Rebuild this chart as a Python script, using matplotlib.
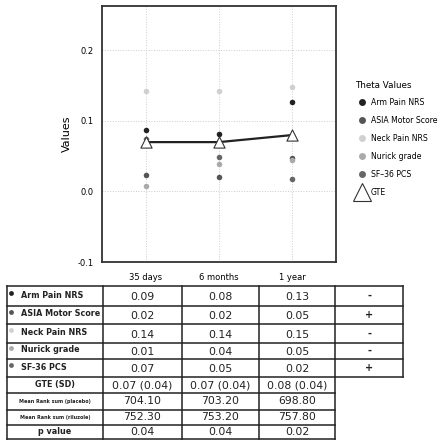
import numpy as np
import matplotlib
matplotlib.use("Agg")
import matplotlib.pyplot as plt
from matplotlib.lines import Line2D

# --- data ---
timepoints = ["35 days", "6 months", "1 year"]
measures = ["Arm Pain NRS", "ASIA Motor Score", "Neck Pain NRS", "Nurick grade", "SF\u201336 PCS"]
measure_colors = ["#222222", "#555555", "#d0d0d0", "#aaaaaa", "#666666"]
# theta values as plotted
theta = {
    "Arm Pain NRS":     [0.087, 0.082, 0.127],
    "ASIA Motor Score": [0.023, 0.021, 0.047],
    "Neck Pain NRS":    [0.143, 0.142, 0.148],
    "Nurick grade":     [0.008, 0.039, 0.045],
    "SF\u201336 PCS":   [0.075, 0.049, 0.018],
}
gte = [0.07, 0.07, 0.08]

# table contents
table_labels = ["Arm Pain NRS", "ASIA Motor Score", "Neck Pain NRS", "Nurick grade", "SF-36 PCS"]
table_theta = [["0.09", "0.08", "0.13"],
               ["0.02", "0.02", "0.05"],
               ["0.14", "0.14", "0.15"],
               ["0.01", "0.04", "0.05"],
               ["0.07", "0.05", "0.02"]]
direction = ["-", "+", "-", "-", "+"]
gte_sd = ["0.07 (0.04)", "0.07 (0.04)", "0.08 (0.04)"]
rank_placebo = ["704.10", "703.20", "698.80"]
rank_riluzole = ["752.30", "753.20", "757.80"]
p_values = ["0.04", "0.04", "0.02"]

W, H = 441, 440
fig = plt.figure(figsize=(W / 100, H / 100), dpi=100)

# --- chart ---
ax = fig.add_axes([102 / W, (H - 262) / H, 234 / W, 256 / H])
x = np.arange(1, len(timepoints) + 1)
for m, c in zip(measures, measure_colors):
    ax.scatter(x, theta[m], s=16, color=c, zorder=3, linewidths=0)
ax.plot(x, gte, color="#222222", lw=1.6, zorder=4)
ax.scatter(x, gte, marker="^", s=65, facecolor="white", edgecolor="#333333",
           linewidths=0.8, zorder=5)
ax.set_xlim(0.4, 3.6)
ax.set_ylim(-0.1, 0.263)
ax.set_yticks([-0.1, 0.0, 0.1, 0.2])
ax.set_yticklabels(["-0.1", "0.0", "0.1", "0.2"])
ax.set_xticks(x)
ax.set_xticklabels(timepoints)
ax.tick_params(axis="both", length=0, labelsize=6, pad=6)
ax.tick_params(axis="x", pad=8)
ax.grid(True, color="#cccccc", linestyle=":", lw=0.7)
for s in ax.spines.values():
    s.set_linewidth(1.3)
    s.set_color("#333333")
ax.set_ylabel("Values", fontsize=8, labelpad=4)

handles = [Line2D([], [], ls="none", marker="o", ms=5, mec="none", color=c)
           for c in measure_colors]
handles.append(Line2D([], [], ls="none", marker="^", ms=13, mfc="white",
                      mec="#333333", mew=0.8))
leg = ax.legend(handles, measures + ["GTE"], loc="upper left",
                bbox_to_anchor=(1.07, 0.72), frameon=False,
                title="Theta Values", fontsize=5.6, title_fontsize=6.3,
                handletextpad=0.4, handlelength=1.6, labelspacing=1.15,
                borderaxespad=0)
leg._legend_box.align = "left"
leg._legend_box.sep = 6

# --- table ---
tx = fig.add_axes([0, 0, 1, 1])
tx.set_xlim(0, W)
tx.set_ylim(H, 0)
tx.axis("off")

cols = [7, 103, 182, 259, 335, 403]
rows = [286, 306, 324, 343, 359, 377, 393, 410, 425, 439]
lw = 1.1
# horizontal lines
for i, y in enumerate(rows):
    right = cols[-1] if i <= 5 else cols[-2]
    tx.plot([cols[0], right], [y, y], color="#222222", lw=lw)
# vertical lines
for j, xc in enumerate(cols):
    bottom = rows[5] if j == len(cols) - 1 else rows[-1]
    tx.plot([xc, xc], [rows[0], bottom], color="#222222", lw=lw)

num_font = dict(fontsize=7.8, ha="center", va="center", color="#222222")
for i in range(5):
    yc = (rows[i] + rows[i + 1]) / 2
    tx.scatter([11], [yc - 3], s=12, color=measure_colors[i], linewidths=0)
    tx.text(21, yc - 1, table_labels[i], fontsize=5.8, fontweight="bold",
            ha="left", va="center", color="#222222")
    for j in range(3):
        tx.text((cols[j + 1] + cols[j + 2]) / 2, yc + 1, table_theta[i][j], **num_font)
    tx.text((cols[4] + cols[5]) / 2, yc, direction[i], fontsize=7, ha="center",
            va="center", fontweight="bold", color="#222222")

extra_rows = [("GTE (SD)", gte_sd, 5.8), ("Mean Rank sum (placebo)", rank_placebo, 3.5),
              ("Mean Rank sum (riluzole)", rank_riluzole, 3.5), ("p value", p_values, 5.8)]
for k, (lab, vals, fs) in enumerate(extra_rows):
    i = 5 + k
    yc = (rows[i] + rows[i + 1]) / 2
    tx.text((cols[0] + cols[1]) / 2, yc, lab, fontsize=fs, fontweight="bold",
            ha="center", va="center", color="#222222")
    for j in range(3):
        tx.text((cols[j + 1] + cols[j + 2]) / 2, yc, vals[j], **num_font)

fig.savefig("out.png", dpi=100)
